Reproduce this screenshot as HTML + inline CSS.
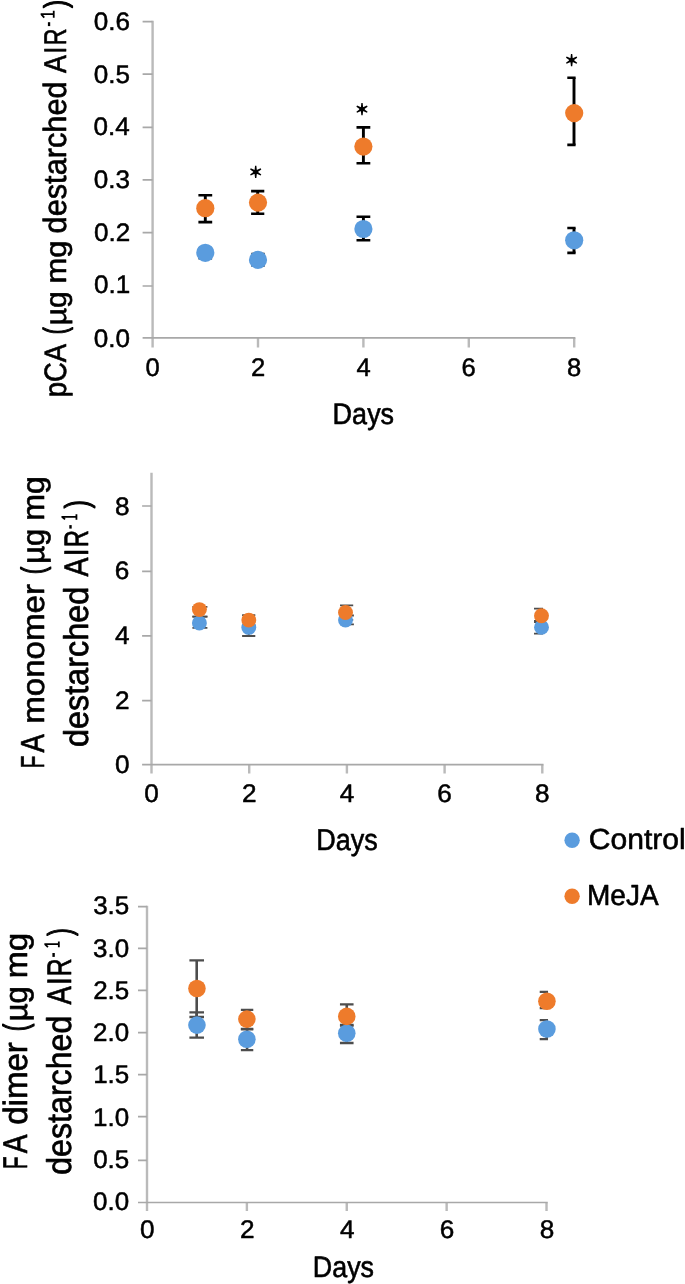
<!DOCTYPE html>
<html><head><meta charset="utf-8"><title>Chart</title>
<style>
html,body{margin:0;padding:0;background:#fff;}
body{width:685px;height:1284px;overflow:hidden;font-family:"Liberation Sans",sans-serif;}
svg{display:block;position:absolute;left:0;top:0;filter:blur(0.45px);}
text{font-family:"Liberation Sans",sans-serif;font-size:100px;fill:#000;stroke:#000;stroke-width:2px;stroke-linejoin:round;text-rendering:geometricPrecision;}
</style></head><body>
<svg width="685" height="1284" viewBox="0 0 685 1284">
<rect x="0" y="0" width="685" height="1284" fill="#fff"/>
<!-- chart 1 : pCA -->
<path d="M152.6 20.75 V347.5M258 337.9 V347.5M363.4 337.9 V347.5M468.8 337.9 V347.5M574.2 337.9 V347.5" stroke="#bababa" stroke-width="2.4" fill="none"/>
<path d="M142.6 337.9 H575.4M142.6 286 H152.6M142.6 232.6 H152.6M142.6 179.9 H152.6M142.6 127.3 H152.6M142.6 74.2 H152.6M142.6 21.6 H152.6" stroke="#a8a8a8" stroke-width="1.7" fill="none"/>
<text transform="translate(94.75,346.85) scale(0.2611,0.2530)" x="-4" y="-1">0.0</text>
<text transform="translate(94.95,293.65) scale(0.2611,0.2530)" x="-4" y="-1">0.1</text>
<text transform="translate(95.01,241.55) scale(0.2611,0.2530)" x="-4" y="-1">0.2</text>
<text transform="translate(94.88,188.55) scale(0.2611,0.2530)" x="-4" y="-1">0.3</text>
<text transform="translate(94.49,135.55) scale(0.2611,0.2530)" x="-4" y="-1">0.4</text>
<text transform="translate(94.82,83.75) scale(0.2611,0.2530)" x="-4" y="-1">0.5</text>
<text transform="translate(94.88,29.95) scale(0.2611,0.2530)" x="-4" y="-1">0.6</text>
<text transform="translate(146.5,376.55) scale(0.2555,0.2544)" x="-4" y="-1">0</text>
<text transform="translate(252.19,376.55) scale(0.2555,0.2544)" x="-5" y="-1">2</text>
<text transform="translate(356.95,376.55) scale(0.2555,0.2544)" x="-2.25" y="-1">4</text>
<text transform="translate(462.89,376.55) scale(0.2555,0.2544)" x="-5" y="-1">6</text>
<text transform="translate(568.2,376.55) scale(0.2555,0.2544)" x="-4.25" y="-1">8</text>
<text transform="translate(334.85,424.3) scale(0.2699,0.2989)" x="-8.25" y="0" fill="#000">Days</text>
<text transform="translate(65.8,395.45) rotate(-90) scale(0.2743,0.3090)" x="-6.5" y="0">pCA</text>
<text transform="translate(65.8,332.85) rotate(-90) scale(0.2095,0.3207)" x="-6.25" y="0" style="stroke-width:4px">(</text>
<text transform="translate(65.8,323.15) rotate(-90) scale(0.3000,0.2949)" x="-6.75" y="0">µg</text>
<text transform="translate(65.8,281.45) rotate(-90) scale(0.3085,0.2949)" x="-6.75" y="0">mg</text>
<text transform="translate(65.8,232.15) rotate(-90) scale(0.3074,0.3221)" x="-4.25" y="0">destarched</text>
<text transform="translate(65.8,73.05) rotate(-90) scale(0.2687,0.3135)" x="-0.25" y="0">A</text>
<text transform="translate(65.8,51.25) rotate(-90) scale(0.2378,0.3135)" x="-9.25" y="0">I</text>
<text transform="translate(65.8,43.25) rotate(-90) scale(0.2329,0.3135)" x="-8.25" y="0">R</text>
<rect x="47.9" y="22.2" width="2.3" height="3.9" fill="#000"/>
<path d="M40.65 14.05 H54.5 M53.74 17.85 V10.65 M41.15 14.05 L44.25 17.55" stroke="#000" stroke-width="1.8" fill="none"/>
<text transform="translate(65.8,7.75) rotate(-90) scale(0.2400,0.3124)" x="-0.75" y="0" style="stroke-width:4px">)</text>
<path d="M205.3 195.3 V222.1" stroke="#000" stroke-width="2.9" fill="none"/>
<path d="M198.4 195.3 H212.2 M198.4 222.1 H212.2" stroke="#000" stroke-width="2.61" fill="none"/>
<path d="M257.7 191.1 V213.8" stroke="#000" stroke-width="2.9" fill="none"/>
<path d="M251.1 191.1 H264.3 M251.1 213.8 H264.3" stroke="#000" stroke-width="2.61" fill="none"/>
<path d="M363.4 127.4 V163.2" stroke="#000" stroke-width="2.9" fill="none"/>
<path d="M356.5 127.4 H370.3 M356.5 163.2 H370.3" stroke="#000" stroke-width="2.61" fill="none"/>
<rect x="572.55" y="77.7" width="2.9" height="67.2" fill="#000"/>
<path d="M567.3 77.7 H575.6 M567.3 144.9 H575.6" stroke="#000" stroke-width="2.61" fill="none"/>
<path d="M205.3 248.5 V258.2" stroke="#000" stroke-width="2.9" fill="none"/>
<path d="M198.5 248.5 H212.1 M198.5 258.2 H212.1" stroke="#000" stroke-width="2.61" fill="none"/>
<path d="M258 254 V265.5" stroke="#000" stroke-width="2.9" fill="none"/>
<path d="M251.4 254 H264.6 M251.4 265.5 H264.6" stroke="#000" stroke-width="2.61" fill="none"/>
<path d="M363.4 216.8 V240.3" stroke="#000" stroke-width="2.9" fill="none"/>
<path d="M356.5 216.8 H370.3 M356.5 240.3 H370.3" stroke="#000" stroke-width="2.61" fill="none"/>
<rect x="572.55" y="228" width="2.9" height="24.9" fill="#000"/>
<path d="M567.3 228 H575.6 M567.3 252.9 H575.6" stroke="#000" stroke-width="2.61" fill="none"/>
<circle cx="205.3" cy="252.8" r="9.1" fill="#5a9cde"/>
<circle cx="258" cy="259.9" r="9.1" fill="#5a9cde"/>
<circle cx="363.4" cy="229" r="9.1" fill="#5a9cde"/>
<circle cx="574.2" cy="240.3" r="9.1" fill="#5a9cde"/>
<circle cx="205.3" cy="208.2" r="9.1" fill="#ee7b2b"/>
<circle cx="258" cy="202.6" r="9.1" fill="#ee7b2b"/>
<circle cx="363.4" cy="146.6" r="9.1" fill="#ee7b2b"/>
<circle cx="574.2" cy="113.1" r="9.1" fill="#ee7b2b"/>
<path d="M254.35 171.9 L255.05 178 L256.35 178 L257.05 171.9ZM255.02 173.07 L260.66 175.51 L261.31 174.39 L256.38 170.73ZM256.38 173.07 L261.31 169.41 L260.66 168.29 L255.02 170.73ZM257.05 171.9 L256.35 165.8 L255.05 165.8 L254.35 171.9ZM256.38 170.73 L250.74 168.29 L250.09 169.41 L255.02 173.07ZM255.02 170.73 L250.09 174.39 L250.74 175.51 L256.38 173.07Z" fill="#000"/>
<ellipse cx="255.7" cy="171.9" rx="2.5" ry="2.0" fill="#000"/>
<path d="M360.65 109.2 L361.35 115.3 L362.65 115.3 L363.35 109.2ZM361.32 110.37 L366.96 112.81 L367.61 111.69 L362.68 108.03ZM362.68 110.37 L367.61 106.71 L366.96 105.59 L361.32 108.03ZM363.35 109.2 L362.65 103.1 L361.35 103.1 L360.65 109.2ZM362.68 108.03 L357.04 105.59 L356.39 106.71 L361.32 110.37ZM361.32 108.03 L356.39 111.69 L357.04 112.81 L362.68 110.37Z" fill="#000"/>
<ellipse cx="362" cy="109.2" rx="2.5" ry="2.0" fill="#000"/>
<path d="M570.25 60.2 L570.95 66.3 L572.25 66.3 L572.95 60.2ZM570.93 61.37 L576.56 63.81 L577.21 62.69 L572.27 59.03ZM572.27 61.37 L577.21 57.71 L576.56 56.59 L570.93 59.03ZM572.95 60.2 L572.25 54.1 L570.95 54.1 L570.25 60.2ZM572.27 59.03 L566.64 56.59 L565.99 57.71 L570.93 61.37ZM570.93 59.03 L565.99 62.69 L566.64 63.81 L572.27 61.37Z" fill="#000"/>
<ellipse cx="571.6" cy="60.2" rx="2.5" ry="2.0" fill="#000"/>
<!-- chart 2 : FA monomer -->
<path d="M151.5 472.75 V773.6M249.2 764.6 V773.6M346.9 764.6 V773.6M444.6 764.6 V773.6M542.3 764.6 V773.6" stroke="#bababa" stroke-width="2.4" fill="none"/>
<path d="M142.1 764.6 H543.5M142.1 700.7 H151.5M142.1 635.9 H151.5M142.1 571.4 H151.5M142.1 506 H151.5" stroke="#a8a8a8" stroke-width="1.7" fill="none"/>
<text transform="translate(115.95,773.2) scale(0.2618,0.2530)" x="-4" y="-1">0</text>
<text transform="translate(116.24,708.95) scale(0.2618,0.2530)" x="-5" y="-1">2</text>
<text transform="translate(115.59,644.25) scale(0.2618,0.2530)" x="-2.25" y="-1">4</text>
<text transform="translate(116.15,579.25) scale(0.2618,0.2530)" x="-5" y="-1">6</text>
<text transform="translate(116.05,514.95) scale(0.2618,0.2530)" x="-4.25" y="-1">8</text>
<text transform="translate(145.25,802.45) scale(0.2618,0.2544)" x="-4" y="-1">0</text>
<text transform="translate(243.24,802.45) scale(0.2618,0.2544)" x="-5" y="-1">2</text>
<text transform="translate(340.29,802.45) scale(0.2618,0.2544)" x="-2.25" y="-1">4</text>
<text transform="translate(438.55,802.45) scale(0.2618,0.2544)" x="-5" y="-1">6</text>
<text transform="translate(536.15,802.45) scale(0.2618,0.2544)" x="-4.25" y="-1">8</text>
<text transform="translate(318.45,849.7) scale(0.2694,0.3004)" x="-8.25" y="0" fill="#000">Days</text>
<text transform="translate(43.8,766.55) rotate(-90) scale(0.2051,0.3324)" x="-8.25" y="0">F</text>
<text transform="translate(43.8,752.55) rotate(-90) scale(0.2747,0.3324)" x="-0.25" y="0">A</text>
<text transform="translate(43.8,721.55) rotate(-90) scale(0.3307,0.3135)" x="-6.75" y="0">monomer</text>
<text transform="translate(43.8,572.85) rotate(-90) scale(0.2248,0.3234)" x="-6.25" y="0" style="stroke-width:4px">(</text>
<text transform="translate(43.8,561.75) rotate(-90) scale(0.3100,0.3135)" x="-6.75" y="0">µg</text>
<text transform="translate(43.8,518.55) rotate(-90) scale(0.3213,0.3135)" x="-6.75" y="0">mg</text>
<text transform="translate(87.5,745.55) rotate(-90) scale(0.3238,0.3441)" x="-4.25" y="0">destarched</text>
<text transform="translate(87.5,576.35) rotate(-90) scale(0.2838,0.3396)" x="-0.25" y="0">A</text>
<text transform="translate(87.5,553.65) rotate(-90) scale(0.2811,0.3396)" x="-9.25" y="0">I</text>
<text transform="translate(87.5,545.35) rotate(-90) scale(0.2380,0.3396)" x="-8.25" y="0">R</text>
<rect x="69.3" y="525.1" width="2.4" height="3.5" fill="#000"/>
<path d="M61.45 516.8 H77.2 M76.44 519.65 V514.35 M61.95 516.8 L65.05 519.35" stroke="#000" stroke-width="1.8" fill="none"/>
<text transform="translate(87.5,507.95) rotate(-90) scale(0.2438,0.3303)" x="-0.75" y="0" style="stroke-width:4px">)</text>
<path d="M199.9 606.8 V616.6" stroke="#4d4d4d" stroke-width="2.0" fill="none"/>
<path d="M192.4 606.8 H207.4 M192.4 616.6 H207.4" stroke="#4d4d4d" stroke-width="1.8" fill="none"/>
<path d="M199.9 616.6 V627.9" stroke="#4d4d4d" stroke-width="2.0" fill="none"/>
<path d="M192.4 616.6 H207.4 M192.4 627.9 H207.4" stroke="#4d4d4d" stroke-width="1.8" fill="none"/>
<path d="M248.7 615.2 V625" stroke="#4d4d4d" stroke-width="2.0" fill="none"/>
<path d="M242.1 615.2 H255.3 M242.1 625 H255.3" stroke="#4d4d4d" stroke-width="1.8" fill="none"/>
<path d="M248.7 619 V636" stroke="#4d4d4d" stroke-width="2.0" fill="none"/>
<path d="M242.1 619 H255.3 M242.1 636 H255.3" stroke="#4d4d4d" stroke-width="1.8" fill="none"/>
<path d="M346.6 605.3 V619.8" stroke="#4d4d4d" stroke-width="2.0" fill="none"/>
<path d="M340 605.3 H353.2 M340 619.8 H353.2" stroke="#4d4d4d" stroke-width="1.8" fill="none"/>
<path d="M347.2 615.5 V624.3" stroke="#4d4d4d" stroke-width="2.0" fill="none"/>
<path d="M340.5 615.5 H353.9 M340.5 624.3 H353.9" stroke="#4d4d4d" stroke-width="1.8" fill="none"/>
<rect x="540.2" y="608.6" width="2" height="13.4" fill="#4d4d4d"/>
<path d="M534 608.6 H543 M534 622 H543" stroke="#4d4d4d" stroke-width="1.8" fill="none"/>
<rect x="540.2" y="621" width="2" height="12.7" fill="#4d4d4d"/>
<path d="M534 621 H543 M534 633.7 H543" stroke="#4d4d4d" stroke-width="1.8" fill="none"/>
<circle cx="199.4" cy="623.1" r="7.45" fill="#5a9cde"/>
<circle cx="248.8" cy="627.4" r="7.45" fill="#5a9cde"/>
<circle cx="345.5" cy="620" r="7.45" fill="#5a9cde"/>
<circle cx="541.5" cy="627.2" r="7.45" fill="#5a9cde"/>
<circle cx="199.4" cy="609.6" r="7.45" fill="#ee7b2b"/>
<circle cx="248.8" cy="620.1" r="7.45" fill="#ee7b2b"/>
<circle cx="345.5" cy="612.5" r="7.45" fill="#ee7b2b"/>
<circle cx="541.5" cy="615.8" r="7.45" fill="#ee7b2b"/>
<circle cx="572.1" cy="840.2" r="7.7" fill="#5a9cde"/>
<circle cx="572.1" cy="896.2" r="7.7" fill="#ee7b2b"/>
<text transform="translate(590.25,849.2) scale(0.3006,0.2903)" x="-5" y="0" fill="#000">Control</text>
<text transform="translate(589.35,904.5) scale(0.2798,0.2902)" x="-8.25" y="0" fill="#000">MeJA</text>
<!-- chart 3 : FA dimer -->
<path d="M147 905.75 V1211.1M246.88 1202.5 V1211.1M346.76 1202.5 V1211.1M446.64 1202.5 V1211.1M546.52 1202.5 V1211.1" stroke="#bababa" stroke-width="2.4" fill="none"/>
<path d="M138 1202.5 H547.72M138 1160.4 H147M138 1116.6 H147M138 1074.7 H147M138 1032.6 H147M138 990.4 H147M138 948.3 H147M138 906.6 H147" stroke="#a8a8a8" stroke-width="1.7" fill="none"/>
<text transform="translate(94.15,1210.65) scale(0.2595,0.2558)" x="-4" y="-1">0.0</text>
<text transform="translate(94.21,1168.65) scale(0.2595,0.2558)" x="-4" y="-1">0.5</text>
<text transform="translate(95.06,1125.85) scale(0.2595,0.2558)" x="-7.5" y="-1">1.0</text>
<text transform="translate(95.12,1083.25) scale(0.2595,0.2558)" x="-7.5" y="-1">1.5</text>
<text transform="translate(94.41,1041.35) scale(0.2595,0.2558)" x="-5" y="-1">2.0</text>
<text transform="translate(94.47,998.85) scale(0.2595,0.2558)" x="-5" y="-1">2.5</text>
<text transform="translate(94.09,956.95) scale(0.2595,0.2558)" x="-3.75" y="-1">3.0</text>
<text transform="translate(94.15,914.75) scale(0.2595,0.2558)" x="-3.75" y="-1">3.5</text>
<text transform="translate(141.15,1238.25) scale(0.2618,0.2558)" x="-4" y="-1">0</text>
<text transform="translate(241.32,1238.25) scale(0.2618,0.2558)" x="-5" y="-1">2</text>
<text transform="translate(340.55,1238.25) scale(0.2618,0.2558)" x="-2.25" y="-1">4</text>
<text transform="translate(440.99,1238.25) scale(0.2618,0.2558)" x="-5" y="-1">6</text>
<text transform="translate(540.77,1238.25) scale(0.2618,0.2558)" x="-4.25" y="-1">8</text>
<text transform="translate(315.05,1277.3) scale(0.2685,0.2960)" x="-8.25" y="0" fill="#000">Days</text>
<text transform="translate(26.9,1167.25) rotate(-90) scale(0.2051,0.3425)" x="-8.25" y="0">F</text>
<text transform="translate(26.9,1153.25) rotate(-90) scale(0.2823,0.3425)" x="-0.25" y="0">A</text>
<text transform="translate(26.9,1123.45) rotate(-90) scale(0.3308,0.3372)" x="-4.25" y="0">dimer</text>
<text transform="translate(26.9,1029.85) rotate(-90) scale(0.2248,0.3359)" x="-6.25" y="0" style="stroke-width:4px">(</text>
<text transform="translate(26.9,1019.15) rotate(-90) scale(0.3100,0.3191)" x="-6.75" y="0">µg</text>
<text transform="translate(26.9,975.95) rotate(-90) scale(0.3252,0.3191)" x="-6.75" y="0">mg</text>
<text transform="translate(70.5,1173.45) rotate(-90) scale(0.3217,0.3441)" x="-4.25" y="0">destarched</text>
<text transform="translate(70.5,1004.55) rotate(-90) scale(0.2732,0.3411)" x="-0.25" y="0">A</text>
<text transform="translate(70.5,982.65) rotate(-90) scale(0.2919,0.3411)" x="-9.25" y="0">I</text>
<text transform="translate(70.5,974.25) rotate(-90) scale(0.2481,0.3411)" x="-8.25" y="0">R</text>
<rect x="52.4" y="953.0" width="2.4" height="3.9" fill="#000"/>
<path d="M44.35 944.2 H59.6 M58.84 947.35 V941.45 M44.85 944.2 L47.95 947.05" stroke="#000" stroke-width="1.8" fill="none"/>
<text transform="translate(70.5,935.65) rotate(-90) scale(0.2248,0.3303)" x="-0.75" y="0" style="stroke-width:4px">)</text>
<path d="M196.7 960.4 V1017" stroke="#4d4d4d" stroke-width="2.6" fill="none"/>
<path d="M189.4 960.4 H204 M189.4 1017 H204" stroke="#4d4d4d" stroke-width="2.3400000000000003" fill="none"/>
<path d="M196.7 1012.4 V1037.7" stroke="#4d4d4d" stroke-width="2.6" fill="none"/>
<path d="M189.4 1012.4 H204 M189.4 1037.7 H204" stroke="#4d4d4d" stroke-width="2.3400000000000003" fill="none"/>
<path d="M247.08 1009.8 V1028.8" stroke="#4d4d4d" stroke-width="2.6" fill="none"/>
<path d="M240.88 1009.8 H253.28 M240.88 1028.8 H253.28" stroke="#4d4d4d" stroke-width="2.3400000000000003" fill="none"/>
<path d="M247.08 1029.4 V1050.2" stroke="#4d4d4d" stroke-width="2.6" fill="none"/>
<path d="M240.88 1029.4 H253.28 M240.88 1050.2 H253.28" stroke="#4d4d4d" stroke-width="2.3400000000000003" fill="none"/>
<path d="M346.76 1004.3 V1025" stroke="#4d4d4d" stroke-width="2.6" fill="none"/>
<path d="M339.96 1004.3 H353.56 M339.96 1025 H353.56" stroke="#4d4d4d" stroke-width="2.3400000000000003" fill="none"/>
<path d="M346.76 1025.6 V1043" stroke="#4d4d4d" stroke-width="2.6" fill="none"/>
<path d="M339.96 1025.6 H353.56 M339.96 1043 H353.56" stroke="#4d4d4d" stroke-width="2.3400000000000003" fill="none"/>
<rect x="545.42" y="991.8" width="2.6" height="16.4" fill="#4d4d4d"/>
<path d="M539.72 991.8 H548.02 M539.72 1008.2 H548.02" stroke="#4d4d4d" stroke-width="2.3400000000000003" fill="none"/>
<rect x="545.42" y="1020.1" width="2.6" height="19" fill="#4d4d4d"/>
<path d="M539.72 1020.1 H548.02 M539.72 1039.1 H548.02" stroke="#4d4d4d" stroke-width="2.3400000000000003" fill="none"/>
<circle cx="196.94" cy="1025.1" r="8.8" fill="#5a9cde"/>
<circle cx="246.88" cy="1039.3" r="8.8" fill="#5a9cde"/>
<circle cx="346.76" cy="1033.2" r="8.8" fill="#5a9cde"/>
<circle cx="546.92" cy="1029" r="8.8" fill="#5a9cde"/>
<circle cx="196.94" cy="988.5" r="8.8" fill="#ee7b2b"/>
<circle cx="246.88" cy="1019.1" r="8.8" fill="#ee7b2b"/>
<circle cx="346.76" cy="1016.4" r="8.8" fill="#ee7b2b"/>
<circle cx="546.92" cy="1001.2" r="8.8" fill="#ee7b2b"/>
</svg>
</body></html>
